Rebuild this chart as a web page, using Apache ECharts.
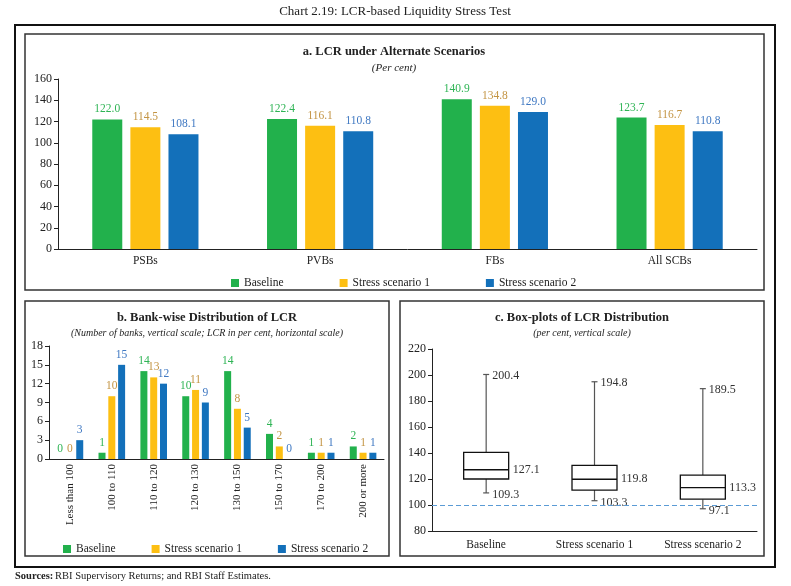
<!DOCTYPE html>
<html>
<head>
<meta charset="utf-8">
<script src="https://cdn.jsdelivr.net/npm/echarts@6/dist/echarts.min.js"></script>
<style>
  html, body { margin: 0; padding: 0; background: #fff; }
  #chart { width: 791px; height: 586px; }
</style>
</head>
<body>
<div id="chart"></div>
<script>
// a. LCR under alternate scenarios (per cent)
var groupNames = ['PSBs', 'PVBs', 'FBs', 'All SCBs'];
var baselineLcr = [122.0, 122.4, 140.9, 123.7];
var stress1Lcr = [114.5, 116.1, 134.8, 116.7];
var stress2Lcr = [108.1, 110.8, 129.0, 110.8];

// b. bank-wise distribution of LCR (number of banks)
var lcrBuckets = ['Less than 100', '100 to 110', '110 to 120', '120 to 130',
  '130 to 150', '150 to 170', '170 to 200', '200 or more'];
var baselineBanks = [0, 1, 14, 10, 14, 4, 1, 2];
var stress1Banks = [0, 10, 13, 11, 8, 2, 1, 1];
var stress2Banks = [3, 15, 12, 9, 5, 0, 1, 1];

// c. box-plots of LCR distribution
var boxNames = ['Baseline', 'Stress scenario 1', 'Stress scenario 2'];
var boxMin = [109.3, 103.3, 97.1];
var boxQ1 = [120.0, 111.5, 104.5];
var boxMedian = [127.1, 119.8, 113.3];
var boxQ3 = [140.5, 130.5, 123.0];
var boxMax = [200.4, 194.8, 189.5];

var seriesNames = ['Baseline', 'Stress scenario 1', 'Stress scenario 2'];
var barColors = ['#22b14c', '#fdbf12', '#1370ba'];
var labelColors = ['#2fb455', '#c39443', '#3f78c2'];
var serif = '"Liberation Serif", "DejaVu Serif", serif';

var boxData = [];
for (var i = 0; i < boxNames.length; i++) {
  boxData.push([i, boxMin[i], boxQ1[i], boxMedian[i], boxQ3[i], boxMax[i]]);
}

var myChart = echarts.init(document.getElementById('chart'));

function axisY(idx, min, max, interval) {
  return {
    type: 'value', gridIndex: idx, min: min, max: max, interval: interval,
    axisLine: { show: true, lineStyle: { color: '#222' } },
    axisTick: { show: true, length: 4, lineStyle: { color: '#222' } },
    splitLine: { show: false },
    axisLabel: { fontFamily: serif, fontSize: 12, color: '#222', margin: 6 }
  };
}
function axisX(idx, data, extra) {
  var ax = {
    type: 'category', gridIndex: idx, data: data,
    axisLine: { lineStyle: { color: '#222' } },
    axisTick: { length: 4, lineStyle: { color: '#222' } },
    axisLabel: { fontFamily: serif, fontSize: 12, color: '#222', margin: 6 }
  };
  for (var k in extra) ax.axisLabel[k] = extra[k];
  return ax;
}

function barSeries(n, axisIdx, values, width, gap, fmt, fontSize) {
  return {
    name: seriesNames[n], type: 'bar', xAxisIndex: axisIdx, yAxisIndex: axisIdx,
    data: values, barWidth: width, barGap: gap,
    itemStyle: { color: barColors[n] },
    label: {
      show: true, position: 'top', distance: 4, color: labelColors[n],
      fontFamily: serif, fontSize: fontSize, formatter: fmt
    }
  };
}

function renderBox(params, api) {
  var i = api.value(0);
  var half = 22.5;
  var pMin = api.coord([i, api.value(1)]);
  var pQ1 = api.coord([i, api.value(2)]);
  var pMed = api.coord([i, api.value(3)]);
  var pQ3 = api.coord([i, api.value(4)]);
  var pMax = api.coord([i, api.value(5)]);
  var x = pMed[0];
  var lineStyle = { stroke: '#555', lineWidth: 1.2 };
  var font = '12px ' + serif;
  return {
    type: 'group',
    children: [
      { type: 'line', shape: { x1: x, y1: pMax[1], x2: x, y2: pQ3[1] }, style: lineStyle },
      { type: 'line', shape: { x1: x - 3, y1: pMax[1], x2: x + 3, y2: pMax[1] }, style: lineStyle },
      { type: 'line', shape: { x1: x, y1: pQ1[1], x2: x, y2: pMin[1] }, style: lineStyle },
      { type: 'line', shape: { x1: x - 3, y1: pMin[1], x2: x + 3, y2: pMin[1] }, style: lineStyle },
      { type: 'rect', shape: { x: x - half, y: pQ3[1], width: half * 2, height: pQ1[1] - pQ3[1] },
        style: { fill: '#fff', stroke: '#111', lineWidth: 1.3 } },
      { type: 'line', shape: { x1: x - half, y1: pMed[1], x2: x + half, y2: pMed[1] },
        style: { stroke: '#111', lineWidth: 1.3 } },
      { type: 'text', style: { text: api.value(5).toFixed(1), x: x + 6, y: pMax[1] + 1,
        font: font, fill: '#333', textAlign: 'left', textVerticalAlign: 'middle' } },
      { type: 'text', style: { text: api.value(1).toFixed(1), x: x + 6, y: pMin[1] + 2,
        font: font, fill: '#333', textAlign: 'left', textVerticalAlign: 'middle' } },
      { type: 'text', style: { text: api.value(3).toFixed(1), x: x + half + 4, y: pMed[1],
        font: font, fill: '#333', textAlign: 'left', textVerticalAlign: 'middle' } }
    ]
  };
}

function txt(text, x, y, font, align, color) {
  return { type: 'text', silent: true, style: { text: text, x: x, y: y, font: font,
    fill: color || '#222', textAlign: align, textVerticalAlign: 'middle' } };
}
function frame(x, y, w, h, lw, color) {
  return { type: 'rect', silent: true, shape: { x: x, y: y, width: w, height: h },
    style: { fill: 'none', stroke: color, lineWidth: lw } };
}

var fmt1 = function (p) { return p.value.toFixed(1); };
var fmt0 = function (p) { return String(p.value); };

var option = {
  animation: false,
  textStyle: { fontFamily: serif },
  graphic: [
    frame(15, 25, 760, 542, 2, '#111'),
    frame(25, 34, 739, 256, 1.5, '#333'),
    frame(25, 301, 364, 255, 1.5, '#333'),
    frame(400, 301, 364, 255, 1.5, '#333'),
    txt('Chart 2.19: LCR-based Liquidity Stress Test', 395, 12, '13px ' + serif, 'center'),
    txt('a. LCR under Alternate Scenarios', 394, 52, 'bold 12.5px ' + serif, 'center'),
    txt('(Per cent)', 394, 68, 'italic 11px ' + serif, 'center'),
    txt('b. Bank-wise Distribution of LCR', 207, 318, 'bold 12.5px ' + serif, 'center'),
    txt('(Number of banks, vertical scale; LCR in per cent, horizontal scale)', 207, 333, 'italic 10px ' + serif, 'center'),
    txt('c. Box-plots of LCR Distribution', 582, 318, 'bold 12.5px ' + serif, 'center'),
    txt('(per cent, vertical scale)', 582, 333, 'italic 10px ' + serif, 'center'),
    txt('Sources:', 15, 576, 'bold 10.5px ' + serif, 'left'),
    txt('RBI Supervisory Returns; and RBI Staff Estimates.', 55, 576, '10.5px ' + serif, 'left')
  ],
  legend: [
    { data: seriesNames, left: 226, top: 272, icon: 'rect', itemWidth: 8, itemHeight: 8,
      itemGap: 56, textStyle: { fontFamily: serif, fontSize: 11.5, color: '#222' } },
    { data: seriesNames, left: 58, top: 538, icon: 'rect', itemWidth: 8, itemHeight: 8,
      itemGap: 36, textStyle: { fontFamily: serif, fontSize: 11.5, color: '#222' } }
  ],
  grid: [
    { left: 58, right: 34, top: 79, height: 170 },
    { left: 49, right: 407, top: 346, height: 113 },
    { left: 432, right: 34, top: 349, height: 182 }
  ],
  xAxis: [
    axisX(0, groupNames, { fontSize: 11.5 }),
    axisX(1, lcrBuckets, { rotate: 90, fontSize: 11, interval: 0, margin: 5 }),
    axisX(2, boxNames, { fontSize: 11.5, margin: 8 })
  ],
  yAxis: [
    axisY(0, 0, 160, 20),
    axisY(1, 0, 18, 3),
    axisY(2, 80, 220, 20)
  ],
  series: [
    barSeries(0, 0, baselineLcr, 30, '27%', fmt1, 11.5),
    barSeries(1, 0, stress1Lcr, 30, '27%', fmt1, 11.5),
    barSeries(2, 0, stress2Lcr, 30, '27%', fmt1, 11.5),
    barSeries(0, 1, baselineBanks, 7, '40%', fmt0, 11.5),
    barSeries(1, 1, stress1Banks, 7, '40%', fmt0, 11.5),
    barSeries(2, 1, stress2Banks, 7, '40%', fmt0, 11.5),
    {
      name: 'LCR box-plot', type: 'custom', xAxisIndex: 2, yAxisIndex: 2,
      renderItem: renderBox, data: boxData,
      encode: { x: 0, y: [1, 2, 3, 4, 5] },
      markLine: {
        silent: true, symbol: 'none', label: { show: false },
        lineStyle: { type: [5, 3], color: '#5b9bd5', width: 1 },
        data: [{ yAxis: 100 }]
      }
    }
  ]
};

myChart.setOption(option);
</script>
</body>
</html>
